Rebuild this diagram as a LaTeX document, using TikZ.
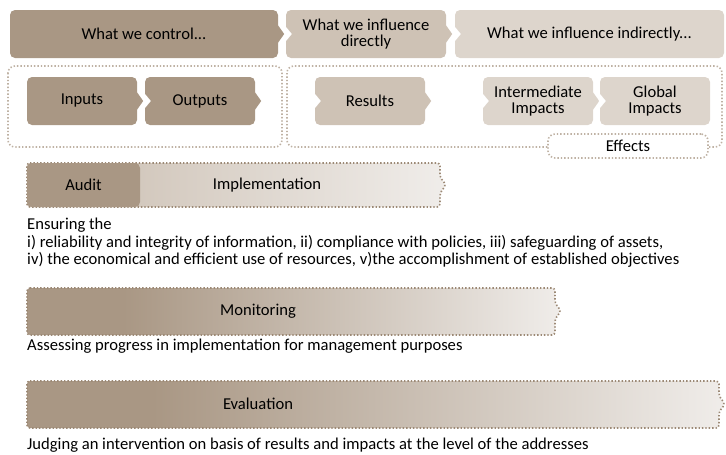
\documentclass[tikz,border=0pt]{standalone}
\usepackage{fontspec}
\setmainfont{Carlito}
\definecolor{dark}{HTML}{A99784}
\definecolor{mid}{HTML}{CEC2B5}
\definecolor{light}{HTML}{DDD5CC}
\definecolor{pale}{HTML}{F0EDEA}
\definecolor{dots}{HTML}{BFB2A4}
\definecolor{bardots}{HTML}{9C8975}
\pgfdeclarehorizontalshading{barfade}{100bp}{color(0bp)=(dark); color(34bp)=(dark); color(75bp)=(pale); color(100bp)=(pale)}
\begin{document}
\begin{tikzpicture}[x=1pt,y=-1pt,
    font=\fontsize{16.6}{15.5}\selectfont,
    box/.style={rounded corners=5pt,minimum height=48pt,inner sep=0pt,align=center},
    frame/.style={draw=dots,line width=1.6pt,dash pattern=on 1.4pt off 2pt,rounded corners=7pt},
    bar/.style={draw=bardots,line width=1.6pt,dash pattern=on 1.4pt off 2pt,rounded corners=3pt},
    note/.style={anchor=west,inner sep=0pt,align=left,font=\fontsize{16.6}{17.5}\selectfont}]
  \useasboundingbox (0,0) rectangle (726,455);
  % top row
  \node[box,fill=dark,minimum width=268pt] (control) at (144,34) {What we control...};
  \node[box,fill=mid,minimum width=160pt] (direct) at (366,34) {What we influence\\directly};
  \node[box,fill=light,minimum width=269pt] (indirect) at (589.5,34) {What we influence indirectly...};
  % containers
  \draw[frame] (8,66) rectangle (282,147);
  \draw[frame] (287,66) rectangle (722,147);
  \node[box,fill=dark,minimum width=110pt] (inputs) at (82,101) {Inputs};
  \node[box,fill=dark,minimum width=110pt] (outputs) at (200,101) {Outputs};
  \node[box,fill=mid,minimum width=110pt] (results) at (370,101) {Results};
  \node[box,fill=light,minimum width=110pt] (inter) at (538,101) {Intermediate\\Impacts};
  \node[box,fill=light,minimum width=110pt] (global) at (655,101) {Global\\Impacts};
  \node[frame,fill=white,minimum width=160pt,minimum height=24pt,inner sep=0pt] (effects) at (628,146) {Effects};
  % chevron tips and notches
  \foreach \n/\c in {control/dark,direct/mid,inputs/dark,outputs/dark,results/mid,inter/light}
    \fill[\c] (\n.east) ++(0,-8.5) -- ++(6,8.5) -- ++(-6,8.5) -- cycle;
  \foreach \n in {direct,indirect,outputs,results,inter,global}
    \fill[white] (\n.west) ++(-1,-8.5) -- ++(7,8.5) -- ++(-7,8.5) -- cycle;
  % audit / implementation
  \draw[bar,left color=mid!85!dark,right color=pale]
    (27,163) -- (440,163) -- (440,177) -- (446,185) -- (440,193) -- (440,207) -- (27,207) -- cycle;
  \node[box,fill=dark,minimum width=113pt,minimum height=44pt] (audit) at (83.5,185) {Audit};
  \node (impl) at (267,185) {Implementation};
  \node[note] (ensure) at (27,243) {Ensuring the\\
    i) reliability and integrity of information, ii) compliance with policies, iii) safeguarding of assets,\\
    iv) the economical and efficient use of resources, v)the accomplishment of established objectives};
  % monitoring
  \draw[bar,shading=barfade]
    (27,288) -- (555,288) -- (555,303) -- (561,311) -- (555,319) -- (555,335) -- (27,335) -- cycle;
  \node (monitor) at (258,311) {Monitoring};
  \node[note] (assess) at (27,346) {Assessing progress in implementation for management purposes};
  % evaluation
  \draw[bar,shading=barfade]
    (27,381) -- (719,381) -- (719,396) -- (725,404) -- (719,412) -- (719,428) -- (27,428) -- cycle;
  \node (evaluate) at (258,404) {Evaluation};
  \node[note] (judge) at (27,445) {Judging an intervention on basis of results and impacts at the level of the addresses};
\end{tikzpicture}
\end{document}
